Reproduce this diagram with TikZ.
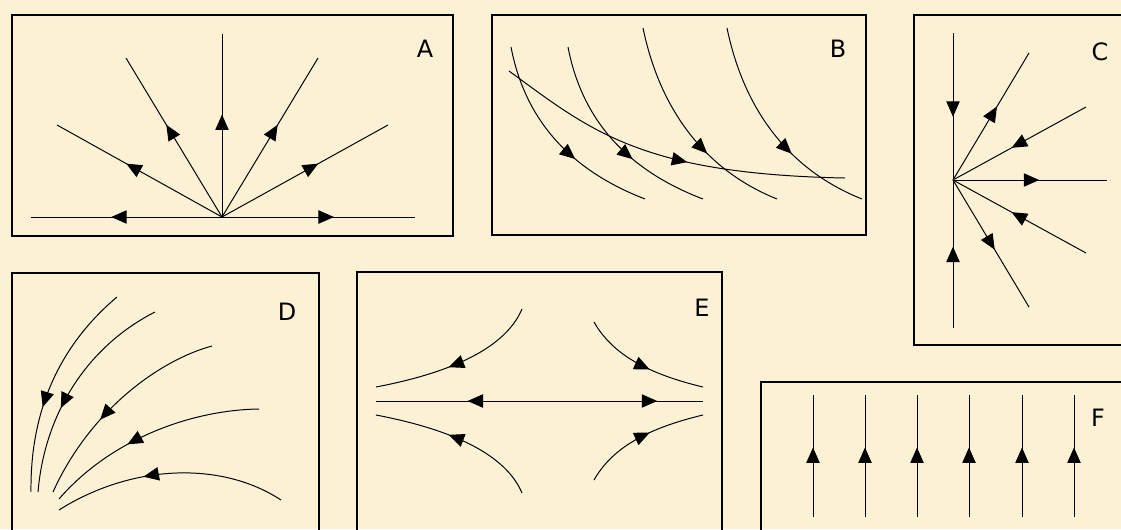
\documentclass[tikz,border=0pt]{standalone}
\usepackage{fontspec}
\setmainfont{DejaVu Sans}
\usetikzlibrary{arrows.meta,decorations.markings}
\definecolor{parch}{RGB}{252,241,212}
\begin{document}
\begin{tikzpicture}[x=0.025cm,y=-0.025cm,
  box/.style={draw,line width=0.9pt},
  lbl/.style={font=\fontsize{17}{19}\selectfont,inner sep=0pt},
  flow/.style={line width=0.7pt,postaction={decorate},
    decoration={markings,mark=at position #1 with {\arrow{Triangle[length=11pt,width=9.5pt]}}}},
  flow/.default=0.57]
\useasboundingbox (0,0) rectangle (1121,529);
\fill[parch] (0,0) rectangle (1121,529);
% A: unstable star
\draw[box] (12,15) rectangle (453,236);
\node[lbl] (labA) at (425,49) {A};
\coordinate (oA) at (222,217);
\coordinate (a1) at (31,217);   \coordinate (a2) at (57,125);
\coordinate (a3) at (126,58);   \coordinate (a4) at (222,34);
\coordinate (a5) at (318,58);   \coordinate (a6) at (388,125);
\coordinate (a7) at (415,217);
\draw[flow=0.58] (oA) -- (a1); \draw[flow=0.58] (oA) -- (a2);
\draw[flow=0.58] (oA) -- (a3); \draw[flow=0.56] (oA) -- (a4);
\draw[flow=0.58] (oA) -- (a5); \draw[flow=0.58] (oA) -- (a6);
\draw[flow=0.58] (oA) -- (a7);
% B: curved flow
\draw[box] (492,15) rectangle (866,235);
\node[lbl] (labB) at (838,49) {B};
\draw[flow=0.62] (511,47) .. controls (525,120) and (570,170) .. (645,199);
\draw[flow=0.62] (568,47) .. controls (582,120) and (627,170) .. (703,199);
\draw[flow=0.63] (643,28) .. controls (660,110) and (705,170) .. (777,199);
\draw[flow=0.63] (727,28) .. controls (744,110) and (789,170) .. (862,199);
\draw[flow=0.56] (509,71) .. controls (590,130) and (640,174) .. (845,178);
% C: mixed star
\draw[box] (914,15) rectangle (1130,345);
\node[lbl] (labC) at (1100,52) {C};
\coordinate (oC) at (953,180);
\coordinate (c1) at (953,33);   \coordinate (c2) at (953,328);
\coordinate (c3) at (1029,53);  \coordinate (c4) at (1086,107);
\coordinate (c5) at (1107,180); \coordinate (c6) at (1086,253);
\coordinate (c7) at (1029,307);
\draw[flow] (c1) -- (oC); \draw[flow=0.55] (c2) -- (oC);
\draw[flow=0.58] (oC) -- (c3); \draw[flow=0.56] (c4) -- (oC);
\draw[flow=0.56] (oC) -- (c5); \draw[flow=0.56] (c6) -- (oC);
\draw[flow=0.55] (oC) -- (c7);
% D: converging curves
\draw[box] (12,273) rectangle (319,540);
\node[lbl] (labD) at (287,312) {D};
\draw[flow=0.61] (117,297) .. controls (60,345) and (30,410) .. (31,492);
\draw[flow=0.61] (155,312) .. controls (90,345) and (45,410) .. (38,492);
\draw[flow=0.61] (212,346) .. controls (160,360) and (90,410) .. (53,492);
\draw[flow=0.61] (259,409) .. controls (190,410) and (110,440) .. (59,499);
\draw[flow=0.61] (281,500) .. controls (220,460) and (130,465) .. (59,510);
% E: saddle
\draw[box] (357,272) rectangle (722,540);
\node[lbl] (labE) at (702,308) {E};
\coordinate (oE) at (539.5,401);
\coordinate (e1) at (376,401); \coordinate (e2) at (703,401);
\draw[flow=0.44] (oE) -- (e1); \draw[flow=0.72] (oE) -- (e2);
\draw[flow=0.56] (522,309) .. controls (508,342) and (465,370) .. (376,387);
\draw[flow=0.56] (522,493) .. controls (508,460) and (465,432) .. (376,415);
\draw[flow=0.57] (594,322) .. controls (610,350) and (640,372) .. (703,387);
\draw[flow=0.57] (594,480) .. controls (610,452) and (640,430) .. (703,415);
% F: parallel flow
\draw[box] (761,382) rectangle (1130,540);
\node[lbl] (labF) at (1098,418) {F};
\draw[flow] (813,517) -- (813,395);
\draw[flow] (865,517) -- (865,395);
\draw[flow] (917,517) -- (917,395);
\draw[flow] (969,517) -- (969,395);
\draw[flow] (1022,517) -- (1022,395);
\draw[flow] (1074,517) -- (1074,395);
\end{tikzpicture}
\end{document}
